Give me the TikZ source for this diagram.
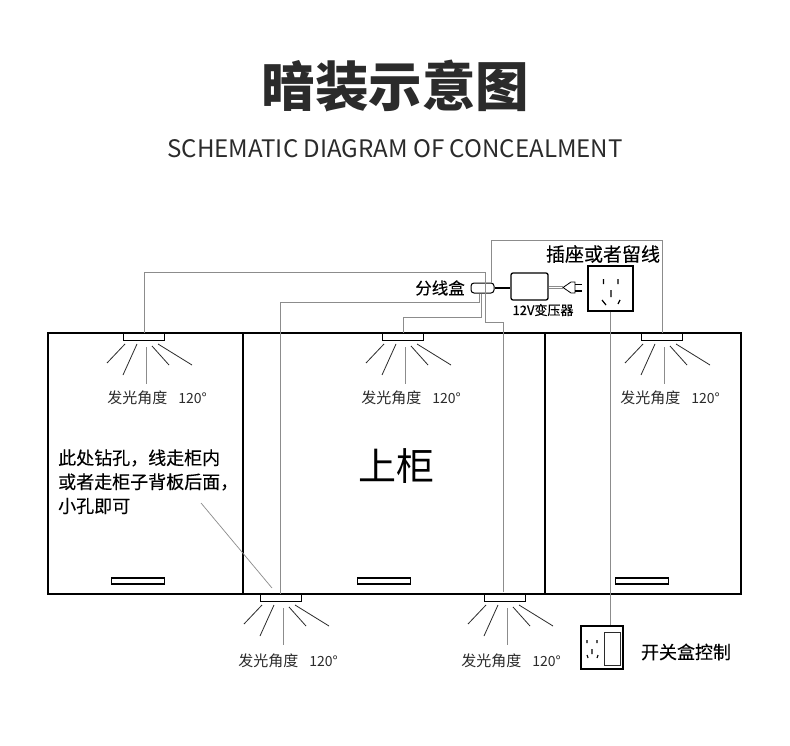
\documentclass[tikz,border=0pt]{standalone}
\usepackage{fontspec}
\setmainfont{Noto Sans CJK SC}
\newfontfamily\medfont[FakeBold=0.25]{Noto Sans CJK SC}
\newcommand{\widecomma}{\char"FF0C\relax}
\definecolor{wiregray}{HTML}{8C8C8C}
\definecolor{inkgray}{HTML}{2B2B2B}
\tikzset{
    cabline/.style={black, line width=1.5pt},
    wire/.style={wiregray, line width=0.8pt},
    ray/.style={inkgray, line width=0.8pt},
    lampbox/.style={draw=black, fill=white, line width=1.2pt, minimum width=41pt, minimum height=6.5pt, inner sep=0pt, anchor=north},
    handlebox/.style={draw=black, fill=white, line width=1.2pt, minimum width=53pt, minimum height=6pt, inner sep=0pt},
    anglelabel/.style={text=inkgray, font=\fontsize{15}{15}\selectfont, inner sep=0pt},
    notelabel/.style={text=black, font=\medfont\fontsize{18}{18}\selectfont, inner sep=0pt}
}
\begin{document}
\begin{tikzpicture}[x=1pt, y=-1pt]
    \useasboundingbox[fill=white] (0,0) rectangle (790,746);

    \node[text=inkgray, font=\fontsize{53.5}{54}\bfseries\selectfont, inner sep=0pt] (title) at (395.5,86) {暗装示意图};
    \node[text=inkgray, font=\fontsize{24.1}{25}\selectfont, inner sep=0pt] (subtitle) at (395,149) {SCHEMATIC DIAGRAM OF CONCEALMENT};

    % cabinets
    \node[draw=black, line width=1.5pt, minimum width=693pt, minimum height=261pt, inner sep=0pt] (cabinet) at (394.5,463.5) {};
    \draw[cabline] (243,333) -- (243,594);
    \draw[cabline] (545,333) -- (545,594);
    \foreach \n/\x in {a/138, b/384, c/642} {
        \node[handlebox] (handle\n) at (\x,581) {};
    }

    % wiring box, transformer, socket, switch
    \node[draw=black, fill=white, rounded corners=3pt, line width=1pt, minimum width=23pt, minimum height=10pt, inner sep=0pt] (splitbox) at (482.5,288) {};
    \node[draw=black, fill=white, rounded corners=2pt, line width=1.3pt, minimum width=37pt, minimum height=27pt, inner sep=0pt] (transformer) at (529.5,286.5) {};
    \node[draw=black, line width=1.4pt, minimum width=45pt, minimum height=45pt, inner sep=0pt] (socket) at (610.5,288.5) {};
    \node[draw=black, line width=1.5pt, minimum width=42pt, minimum height=43pt, inner sep=0pt] (switchbox) at (602,647.5) {};
    \node[draw=inkgray, line width=0.8pt, minimum width=16pt, minimum height=33pt, inner sep=0pt] (switchkey) at (612,648.5) {};

    % lamps
    \foreach \n/\x/\y/\dx/\dy in {a/144/333/13/65, b/403/333/8/65, c/662/333/8/65, d/281/594/7/67, e/505/594/6/67} {
        \begin{scope}[shift={(\x,\y)}]
            \node[lampbox] (lamp\n) at (0,0) {};
            \draw[ray] (-19,11) -- (-37,30);
            \draw[ray] (-7,11) -- (-21,42);
            \draw[wiregray, line width=1pt] (2,14) -- (2,51);
            \draw[ray] (8,13) -- (25,32);
            \draw[ray] (14,11) -- (48,32);
            \node[anglelabel] (angle\n) at (\dx,\dy) {发光角度\hspace{11pt}{\fontsize{14}{15}\selectfont 120°}};
        \end{scope}
    }

    % wires
    \coordinate (jointa) at (485,272);
    \coordinate (jointb) at (485,322);
    \coordinate (jointc) at (479,302);
    \coordinate (jointd) at (481,317);
    \coordinate (jointe) at (491.5,240);
    \draw[wire] (lampa.north) |- (jointa) -- (jointb) -| (503,592);
    \draw[wire] (splitbox.south -| jointc) -- (jointc) -| (lampd.north -| 280,0);
    \draw[wire] (splitbox.south -| jointd) -- (jointd) -| (lampb.north);
    \draw[wire] (splitbox.north -| jointe) -- (jointe) -| (lampc.north);
    \draw[wire] (socket.south) -- (socket.south |- switchbox.north);
    \draw[black, line width=1.5pt] (splitbox.east) -- (splitbox.east -| transformer.west);

    % plug
    \coordinate (plugtip) at (563,287.5);
    \draw[wiregray, line width=0.7pt, double=white, double distance=1.5pt] (transformer.east |- plugtip) -- (plugtip);
    \draw[black, fill=white, line width=0.8pt] (plugtip) -- (571,282) -- (575,282) -- (575,293) -- (571,293) -- cycle;
    \draw[black, line width=1.5pt] (575,284.5) -- (582,284.5);
    \draw[black, line width=1.5pt] (575,291) -- (582,291);

    % socket holes
    \draw[black, line width=1.2pt] (603.5,279) -- (603.5,284) (618,279) -- (618,284) (611,290) -- (611,297) (602,300) -- (606,305) (620,300) -- (618,304);
    \draw[black, line width=1.1pt] (587,640) -- (587,643) (597,640) -- (597,643) (592,649) -- (592,654) (587,655) -- (588,658) (598,655) -- (597,658);

    % leader of the note
    \coordinate (leaderstart) at (201,503);
    \coordinate (leaderend) at (272,588);
    \draw[wiregray, line width=0.7pt] (leaderstart) -- (leaderend);

    % texts
    \node[notelabel, anchor=west] (notea) at (58,458) {此处钻孔\widecomma 线走柜内};
    \node[notelabel, anchor=west] (noteb) at (58,482) {或者走柜子背板后面\widecomma};
    \node[notelabel, anchor=west] (notec) at (58,506) {小孔即可};
    \node[text=black, font=\fontsize{38}{38}\selectfont, inner sep=0pt] (upper) at (396,466) {上柜};
    \node[text=black, font=\medfont\fontsize{16.5}{17}\selectfont, inner sep=0pt, anchor=east] (splitlabel) at (465,288) {分线盒};
    \node[text=black, font=\medfont\fontsize{19}{19}\selectfont, inner sep=0pt] (socketlabel) at (603,254) {插座或者留线};
    \node[text=black, font=\medfont\fontsize{13}{13}\selectfont, inner sep=0pt] (transformerlabel) at (543,310) {12V变压器};
    \node[text=black, font=\medfont\fontsize{18}{18}\selectfont, inner sep=0pt] (switchlabel) at (686,652) {开关盒控制};
\end{tikzpicture}
\end{document}
